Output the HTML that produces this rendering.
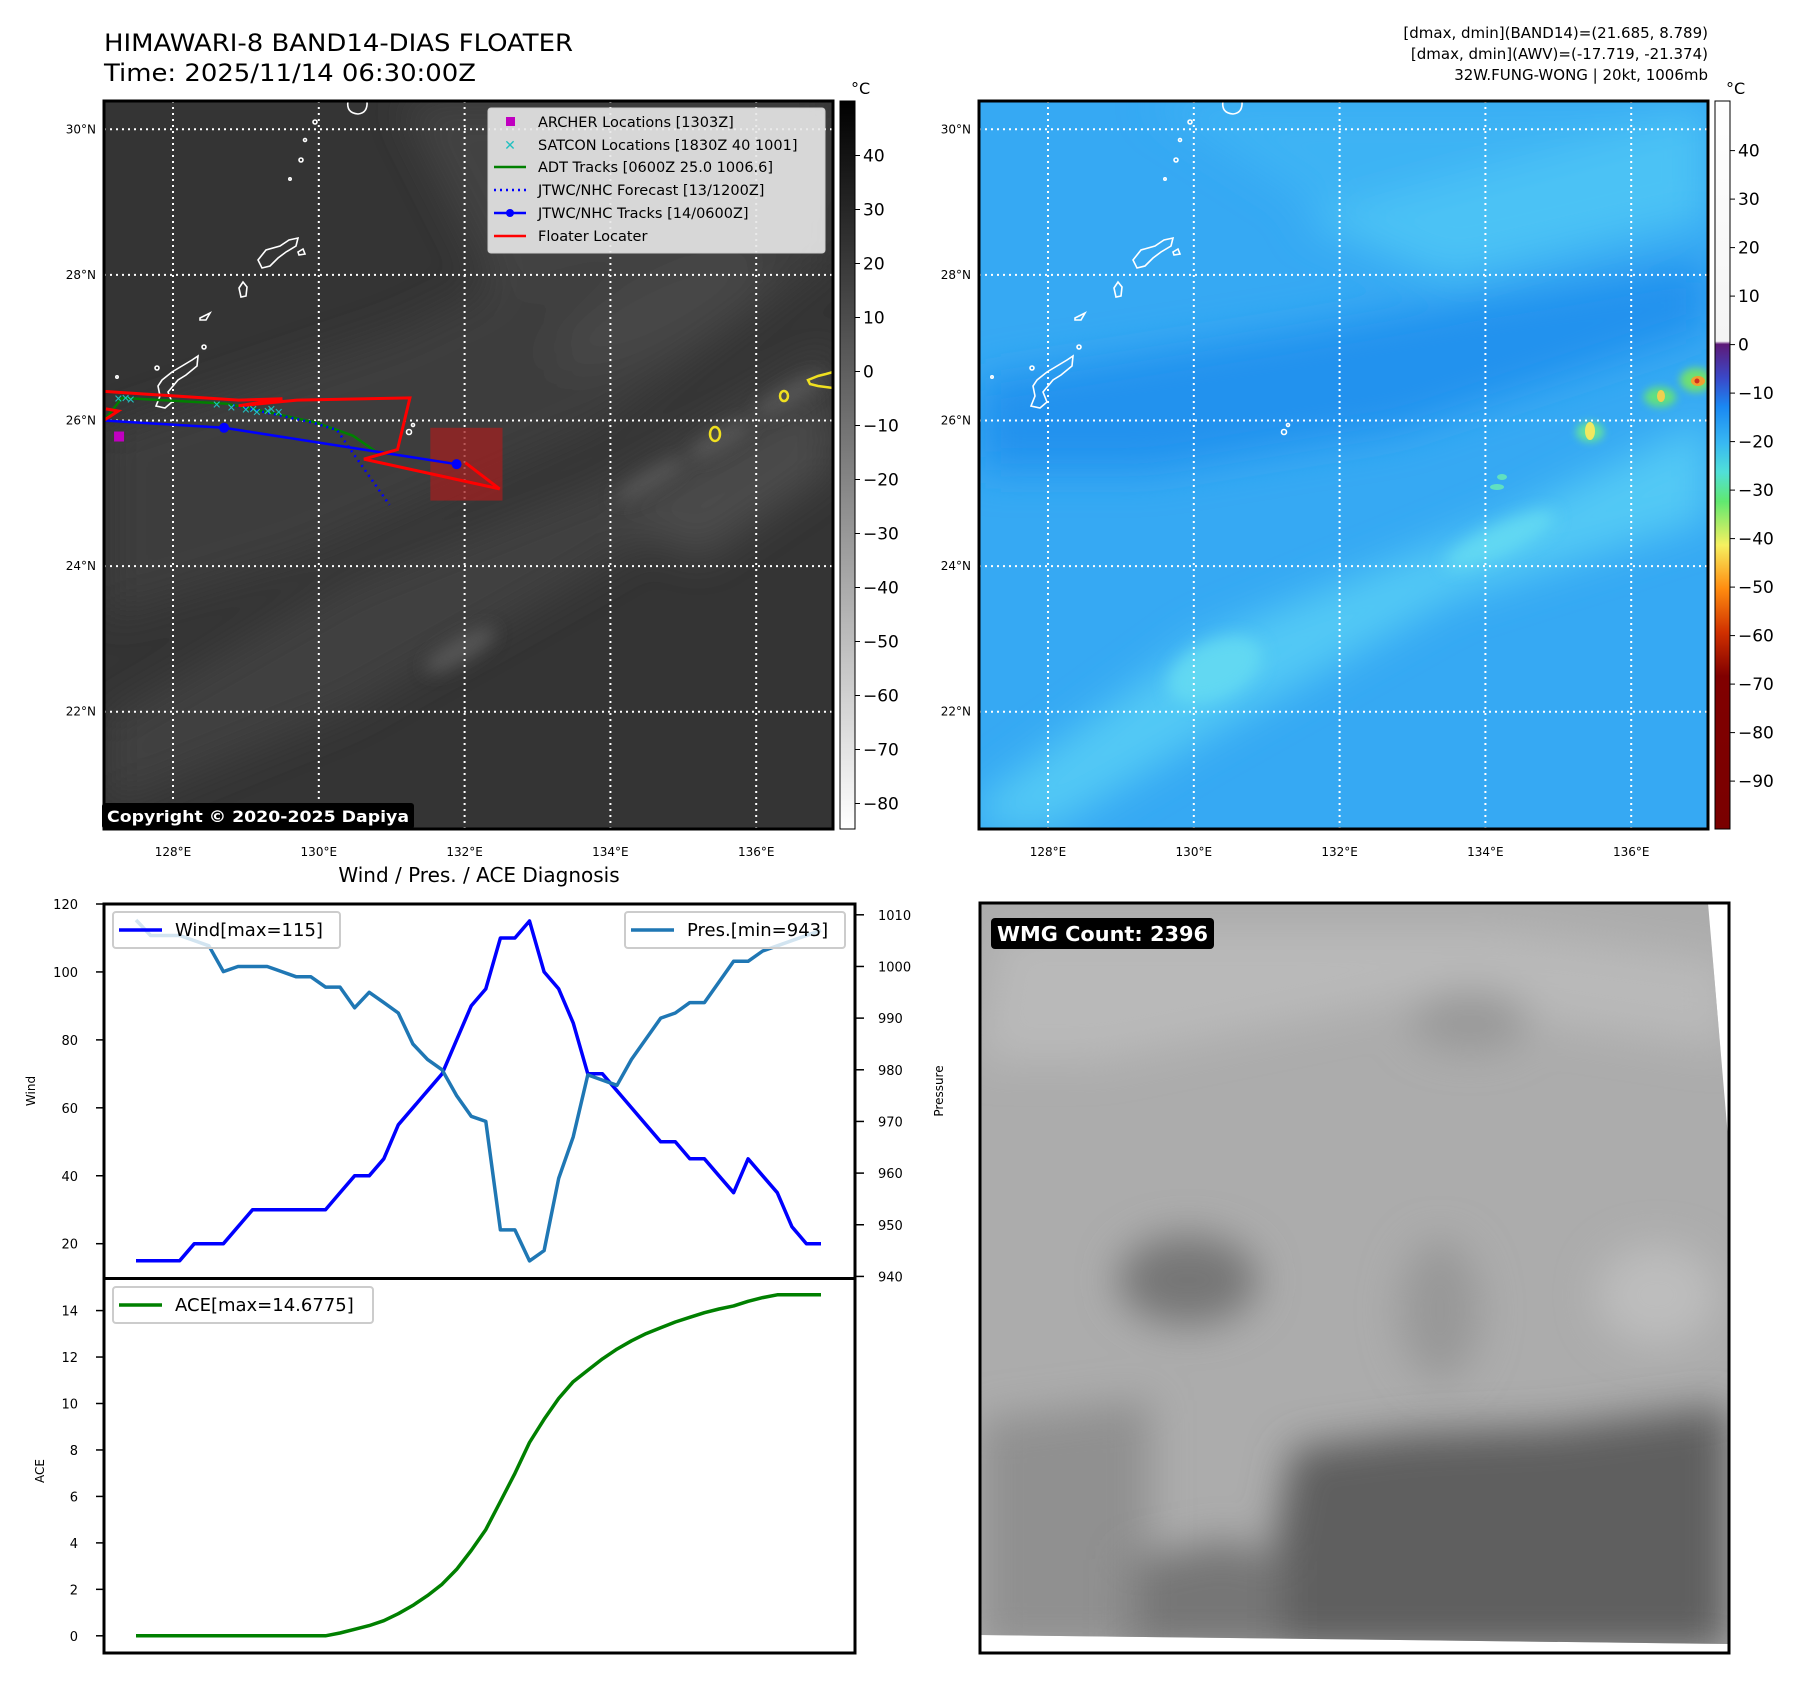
<!DOCTYPE html>
<html><head><meta charset="utf-8"><style>
html,body{margin:0;padding:0;background:#fff;width:1797px;height:1690px;overflow:hidden}
svg{display:block;font-family:"DejaVu Sans","Liberation Sans",sans-serif}
</style></head><body>
<svg id="fig" width="1797" height="1690" viewBox="0 0 1797 1690" xmlns="http://www.w3.org/2000/svg">
<defs>
<filter id="b20" x="-50%" y="-50%" width="200%" height="200%"><feGaussianBlur stdDeviation="20"/></filter>
<filter id="b8" x="-50%" y="-50%" width="200%" height="200%"><feGaussianBlur stdDeviation="8"/></filter>
<filter id="b4" x="-50%" y="-50%" width="200%" height="200%"><feGaussianBlur stdDeviation="4"/></filter>
<clipPath id="cL"><rect x="104" y="101" width="729" height="728"/></clipPath>
<clipPath id="cR"><rect x="979" y="101" width="729" height="728"/></clipPath>
<clipPath id="cI"><polygon points="980,903 1708,903 1729,1149 1729,1644 980,1635"/></clipPath>
<linearGradient id="gGray" x1="0" y1="0" x2="0" y2="1"><stop offset="0" stop-color="#000"/><stop offset="1" stop-color="#fff"/></linearGradient>
<linearGradient id="gJet" x1="0" y1="0" x2="0" y2="1">
<stop offset="0" stop-color="#ffffff"/><stop offset="0.33" stop-color="#f4f4f4"/>
<stop offset="0.334" stop-color="#5e1a78"/><stop offset="0.38" stop-color="#3a48c8"/>
<stop offset="0.42" stop-color="#1a88f2"/><stop offset="0.47" stop-color="#38b8f2"/>
<stop offset="0.51" stop-color="#50e0d8"/><stop offset="0.55" stop-color="#60e870"/>
<stop offset="0.61" stop-color="#f6f060"/><stop offset="0.67" stop-color="#ff8c10"/>
<stop offset="0.73" stop-color="#d03000"/><stop offset="0.79" stop-color="#800000"/><stop offset="1" stop-color="#7a0000"/>
</linearGradient>
</defs>

<text x="104" y="51" font-size="24" fill="#000" textLength="469" lengthAdjust="spacingAndGlyphs">HIMAWARI-8 BAND14-DIAS FLOATER</text>
<text x="104" y="81" font-size="24" fill="#000" textLength="372" lengthAdjust="spacingAndGlyphs">Time: 2025/11/14 06:30:00Z</text>
<g font-size="15" fill="#000" text-anchor="end">
<text x="1708" y="38">[dmax, dmin](BAND14)=(21.685, 8.789)</text>
<text x="1708" y="59">[dmax, dmin](AWV)=(-17.719, -21.374)</text>
<text x="1708" y="80">32W.FUNG-WONG | 20kt, 1006mb</text>
</g>

<g clip-path="url(#cL)">
<rect x="104" y="101" width="729" height="728" fill="#343434"/>
<g filter="url(#b20)">
<polygon points="104,430 400,330 833,120 833,260 600,430 300,560 104,620" fill="#3e3e3e"/>
<polygon points="400,101 833,101 833,200 500,300" fill="#424242"/>
<polygon points="104,720 350,580 600,480 833,340 833,430 600,570 350,710 104,810" fill="#404040"/>
<polygon points="620,520 760,440 833,400 833,470 700,560" fill="#4c4c4c"/>
<ellipse cx="660" cy="310" rx="120" ry="40" transform="rotate(-25 660 310)" fill="#474747"/>
</g>
<g filter="url(#b8)" fill="#555">
<ellipse cx="720" cy="440" rx="35" ry="10" transform="rotate(-30 720 440)"/>
<ellipse cx="790" cy="395" rx="40" ry="10" transform="rotate(-30 790 395)"/>
<ellipse cx="650" cy="480" rx="40" ry="9" transform="rotate(-30 650 480)"/>
<ellipse cx="460" cy="650" rx="40" ry="12" transform="rotate(-30 460 650)"/>
</g>
<g fill="none" stroke="#f0e020" stroke-width="2.5">
<ellipse cx="715" cy="434" rx="5" ry="7"/><ellipse cx="784" cy="396" rx="4" ry="5"/>
<path d="M808 380 L818 376 L826 374 L833 372 L833 388 L818 386 L810 384 Z"/>
</g>
</g>

<g clip-path="url(#cR)">
<rect x="979" y="101" width="729" height="728" fill="#36a9f3"/>
<g filter="url(#b20)">
<polygon points="979,380 1300,330 1708,260 1708,330 1400,430 1150,470 979,470" fill="#2192ee"/>
<polygon points="1150,101 1708,101 1708,200 1400,260" fill="#3db3f4"/>
<polygon points="979,800 1200,640 1500,520 1708,420 1708,520 1450,600 1200,740 1050,829 979,829" fill="#52c9f5"/>
<polygon points="1300,220 1708,110 1708,220 1450,280" fill="#4cc2f5"/>
</g>
<g filter="url(#b8)" fill="#62d8f2">
<ellipse cx="1215" cy="670" rx="50" ry="28" transform="rotate(-25 1215 670)"/>
<ellipse cx="1500" cy="540" rx="60" ry="15" transform="rotate(-25 1500 540)"/>
</g>
<g>
<ellipse cx="1590" cy="432" rx="14" ry="10" fill="#60e0a0" filter="url(#b4)"/>
<ellipse cx="1590" cy="431" rx="5" ry="9" fill="#f0e860"/>
<ellipse cx="1660" cy="397" rx="16" ry="10" fill="#60e080" filter="url(#b4)"/>
<ellipse cx="1661" cy="396" rx="4" ry="6" fill="#f0d050"/>
<ellipse cx="1696" cy="380" rx="16" ry="12" fill="#70e070" filter="url(#b4)"/>
<ellipse cx="1698" cy="381" rx="7" ry="5" fill="#f0a030"/>
<circle cx="1697" cy="381" r="2.5" fill="#d03020"/>
<ellipse cx="1502" cy="477" rx="5" ry="3" fill="#60e0c0"/>
<ellipse cx="1497" cy="487" rx="7" ry="3" fill="#60e0c0"/>
</g>
</g>

<g id="islandsL" fill="none" stroke="#fff" stroke-width="1.6">
<path d="M348 101 Q346 113 358 114 Q368 113 367 101"/>
<path d="M258 260 L266 250 L280 246 L289 240 L298 238 L296 246 L286 252 L278 258 L270 266 L262 268 Z"/>
<path d="M298 252 L303 249 L305 254 L299 255 Z"/>
<path d="M239 288 L243 282 L247 287 L246 296 L241 297 Z"/>
<path d="M200 318 L210 313 L206 320 L200 320 Z"/>
<path d="M162 380 L172 372 L192 360 L198 356 L197 366 L186 375 L178 380 L168 392 L172 402 L165 408 L156 406 L160 396 L158 386 Z"/>
<circle cx="157" cy="368" r="2"/><circle cx="305" cy="140" r="1.5"/><circle cx="301" cy="160" r="2"/>
<circle cx="315" cy="122" r="2"/><circle cx="290" cy="179" r="1.2"/><circle cx="204" cy="347" r="2"/>
<circle cx="117" cy="377" r="1.2"/><circle cx="409" cy="432" r="2.5"/><circle cx="413" cy="425" r="1.5"/>
</g>
<use href="#islandsL" x="875" y="0"/>

<g id="gridL" stroke="#fff" stroke-width="2" stroke-dasharray="2,4" clip-path="url(#cL)"></g>
<g id="gridR" stroke="#fff" stroke-width="2" stroke-dasharray="2,4" clip-path="url(#cR)"></g>

<g id="tracks" clip-path="url(#cL)"></g>

<rect x="104" y="101" width="729" height="728" fill="none" stroke="#000" stroke-width="3"/>
<rect x="979" y="101" width="729" height="728" fill="none" stroke="#000" stroke-width="3"/>
<g id="mapTicks" font-size="12" fill="#000"></g>

<rect x="840" y="101" width="15" height="728" fill="url(#gGray)" stroke="#000" stroke-width="1"/>
<rect x="1715" y="101" width="15" height="728" fill="url(#gJet)" stroke="#000" stroke-width="1"/>
<text x="851" y="94" font-size="16">°C</text>
<text x="1726" y="94" font-size="16">°C</text>
<g id="cbTicks" font-size="17" fill="#000"></g>

<g>
<rect x="488" y="108" width="337" height="145" rx="3" fill="#e8e8e8" fill-opacity="0.9" stroke="#ccc"/>
<g font-size="14.5" fill="#000">
<rect x="506" y="117" width="9" height="9" fill="#c000c0"/>
<text x="538" y="127">ARCHER Locations [1303Z]</text>
<text x="510" y="150" fill="#20c0c0" text-anchor="middle" font-weight="bold" font-size="14">✕</text>
<text x="538" y="150">SATCON Locations [1830Z 40 1001]</text>
<line x1="494" y1="167" x2="526" y2="167" stroke="#008000" stroke-width="2.5"/>
<text x="538" y="172">ADT Tracks [0600Z 25.0 1006.6]</text>
<line x1="494" y1="190" x2="526" y2="190" stroke="#0000ff" stroke-width="2.5" stroke-dasharray="2,4"/>
<text x="538" y="195">JTWC/NHC Forecast [13/1200Z]</text>
<line x1="494" y1="213" x2="526" y2="213" stroke="#0000ff" stroke-width="2.5"/><circle cx="510" cy="213" r="4" fill="#0000ff"/>
<text x="538" y="218">JTWC/NHC Tracks [14/0600Z]</text>
<line x1="494" y1="236" x2="526" y2="236" stroke="#ff0000" stroke-width="2.5"/>
<text x="538" y="241">Floater Locater</text>
</g></g>

<rect x="102" y="803" width="312" height="26" rx="3" fill="#000"/>
<text x="107" y="822" font-size="16" font-weight="bold" fill="#fff" textLength="302" lengthAdjust="spacingAndGlyphs">Copyright © 2020-2025 Dapiya</text>

<text x="479" y="882" font-size="20" text-anchor="middle">Wind / Pres. / ACE Diagnosis</text>
<g id="diag"></g>

<g>
<g clip-path="url(#cI)">
<rect x="980" y="903" width="749" height="750" fill="#acacac"/>
<g filter="url(#b20)">
<polygon points="1000,930 1500,930 1729,960 1729,1050 1400,1000 1100,1060 980,1060" fill="#b9b9b9"/>
<ellipse cx="1188" cy="1280" rx="70" ry="45" fill="#767676"/>
<ellipse cx="1470" cy="1020" rx="60" ry="30" fill="#989898"/>
<ellipse cx="1657" cy="1295" rx="60" ry="50" fill="#bdbdbd"/>
<ellipse cx="1440" cy="1310" rx="40" ry="70" fill="#989898"/>
<polygon points="980,1420 1150,1400 1150,1650 980,1650" fill="#909090"/>
</g>
<g filter="url(#b20)">
<polygon points="1293,1448 1412,1433 1553,1427 1729,1405 1729,1650 1282,1650 1275,1540" fill="#5f5f5f"/>
<polygon points="1130,1560 1230,1540 1282,1560 1282,1650 1130,1650" fill="#767676"/>
</g>
</g>
<rect x="980" y="903" width="749" height="750" fill="none" stroke="#000" stroke-width="3"/>
<rect x="991" y="918" width="223" height="31" rx="4" fill="#000"/>
<text x="997" y="941" font-size="20" font-weight="bold" fill="#fff" textLength="211" lengthAdjust="spacingAndGlyphs">WMG Count: 2396</text>
</g>
</svg>

<script>
const wind = [15,15,15,15,20,20,20,25,30,30,30,30,30,30,35,40,40,45,55,60,65,70,80,90,95,110,110,115,100,95,85,70,70,65,60,55,50,50,45,45,40,35,45,40,35,25,20,20];
const pres = [1009,1006,1006,1006,1005,1004,999,1000,1000,1000,999,998,998,996,996,992,995,993,991,985,982,980,975,971,970,949,949,943,945,959,967,979,978,977,982,986,990,991,993,993,997,1001,1001,1003,1004,1005,1006,1007];
const ace = [0,0,0,0,0,0,0,0,0,0,0,0,0,0,0.12,0.28,0.44,0.65,0.95,1.31,1.73,2.22,2.86,3.67,4.57,5.78,6.99,8.32,9.32,10.22,10.94,11.43,11.92,12.34,12.70,13.01,13.26,13.51,13.71,13.91,14.07,14.20,14.40,14.56,14.68,14.68,14.68,14.68];
const windTicks = [20,40,60,80,100,120];
const presTicks = [940,950,960,970,980,990,1000,1010];
const aceTicks = [0,2,4,6,8,10,12,14];
const bandTicks = [40,30,20,10,0,-10,-20,-30,-40,-50,-60,-70,-80];
const awvTicks = [40,30,20,10,0,-10,-20,-30,-40,-50,-60,-70,-80,-90];
const lonTicks = [128,130,132,134,136];
const latTicks = [30,28,26,24,22];
const bestTrack = [[127.05,26.0],[128.7,25.9],[131.89,25.4]];
const forecastTrack = [[128.82,26.21],[129.92,25.97],[130.25,25.87],[130.47,25.55],[130.97,24.84]];
const adtTrack = [[127.08,26.03],[127.30,26.31],[128.74,26.23],[129.37,26.10],[129.97,25.97],[130.47,25.79],[130.80,25.56]];
const floaterPath = [[127.05,26.40],[128.9,26.28],[129.5,26.30],[128.9,26.2],[129.7,26.28],[131.25,26.31],[131.08,25.60],[130.62,25.47],[132.48,25.06],[132.01,25.42]];
const floaterPath2 = [[127.05,26.0],[127.25,26.13],[127.08,26.16]];
const satcon = [[127.25,26.30],[127.35,26.31],[127.42,26.29],[128.6,26.22],[128.8,26.18],[129.0,26.15],[129.15,26.12],[129.3,26.13],[129.45,26.12],[129.1,26.16],[129.35,26.16]];
const archer = [[127.26,25.78]];
const floaterBox = [131.53,132.52,24.9,25.9];

const NS='http://www.w3.org/2000/svg';
function mk(tag, attrs, parent){const e=document.createElementNS(NS,tag);for(const k in attrs)e.setAttribute(k,attrs[k]);parent.appendChild(e);return e;}

const mx = lon => 173 + (lon-128)*72.9;
const my = lat => 420.5 - (lat-26)*72.8;
const pts = arr => arr.map(p=>mx(p[0]).toFixed(1)+','+my(p[1]).toFixed(1)).join(' ');

const gL=document.getElementById('gridL'), gR=document.getElementById('gridR'), mt=document.getElementById('mapTicks');
[[gL,0],[gR,875]].forEach(([g,off])=>{
  lonTicks.forEach(l=>{const ln=mk('line',{x1:mx(l)+off,x2:mx(l)+off,y1:101,y2:829},g);
    
    
    const t=mk('text',{x:mx(l)+off,y:856,'text-anchor':'middle'},mt);t.textContent=l+'°E';
    
    });
  latTicks.forEach(l=>{const ln=mk('line',{x1:104+off,x2:833+off,y1:my(l),y2:my(l)},g);
    
    
    const t=mk('text',{x:96+off,y:my(l)+4,'text-anchor':'end'},mt);t.textContent=l+'°N';
    
    });
});

const tr=document.getElementById('tracks');
let e;
e=mk('rect',{x:mx(floaterBox[0]),y:my(floaterBox[3]),width:mx(floaterBox[1])-mx(floaterBox[0]),height:my(floaterBox[2])-my(floaterBox[3]),fill:'#a02020','fill-opacity':0.75},tr);


e=mk('polyline',{points:pts(adtTrack),fill:'none',stroke:'#008000','stroke-width':2.5},tr);


e=mk('polyline',{points:pts(bestTrack),fill:'none',stroke:'#0000ff','stroke-width':2.5},tr);


bestTrack.slice(1).forEach(p=>{const c=mk('circle',{cx:mx(p[0]),cy:my(p[1]),r:5,fill:'#0000ff'},tr);
  
  });
e=mk('polyline',{points:pts(forecastTrack),fill:'none',stroke:'#0000ff','stroke-width':2.5,'stroke-dasharray':'2,4'},tr);


[floaterPath,floaterPath2].forEach(fp=>{const p=mk('polyline',{points:pts(fp),fill:'none',stroke:'#ff0000','stroke-width':3},tr);
  
  });
satcon.forEach(p=>{const t=mk('text',{x:mx(p[0]),y:my(p[1])+4,'font-size':11,'font-weight':'bold',fill:'#20c0c0','text-anchor':'middle'},tr);t.textContent='✕';
  
  });
archer.forEach(p=>{const r=mk('rect',{x:mx(p[0])-5,y:my(p[1])-5,width:10,height:10,fill:'#c000c0'},tr);
  
  });

const cb=document.getElementById('cbTicks');
const cbY1=v=>155.5+(40-v)*5.4, cbY2=v=>150.6+(40-v)*4.85;
bandTicks.forEach(v=>{mk('line',{x1:855,x2:860,y1:cbY1(v),y2:cbY1(v),stroke:'#000'},cb);
  const t=mk('text',{x:863,y:cbY1(v)+6},cb);t.textContent=v<0?'−'+(-v):v;
  
  });
awvTicks.forEach(v=>{mk('line',{x1:1730,x2:1735,y1:cbY2(v),y2:cbY2(v),stroke:'#000'},cb);
  const t=mk('text',{x:1738,y:cbY2(v)+6},cb);t.textContent=v<0?'−'+(-v):v;
  
  });

const d=document.getElementById('diag');
const L=104,R=855,T=904,M=1278.5,B=1653;
const xs=i=>136+i*(821-136)/(wind.length-1);
const yW=v=>T+(120-v)*3.397;
const yP=v=>914.8+(1010-v)*5.166;
const yA=v=>1635.8-v*23.23;
function line(arr,yf,col,name){const p=mk('polyline',{points:arr.map((v,i)=>xs(i).toFixed(1)+','+yf(v).toFixed(1)).join(' '),fill:'none',stroke:col,'stroke-width':3.5,'stroke-linejoin':'round'},d);
  
  }
line(wind,yW,'#0000ff','wind-line');
line(pres,yP,'#1f77b4','pressure-line');
line(ace,yA,'#008000','ace-line');
function tickL(vals,yf,name){vals.forEach(v=>{mk('line',{x1:L-8,x2:L,y1:yf(v),y2:yf(v),stroke:'#000','stroke-width':1.5},d);
  const t=mk('text',{x:78,y:yf(v)+5,'font-size':13,'text-anchor':'end'},d);t.textContent=v;
  
  });}
tickL(windTicks,yW,'wind-tick-label');
tickL(aceTicks,yA,'ace-tick-label');
presTicks.forEach(v=>{mk('line',{x1:R,x2:R+9,y1:yP(v),y2:yP(v),stroke:'#000','stroke-width':1.5},d);
  const t=mk('text',{x:878,y:yP(v)+5,'font-size':13},d);t.textContent=v;
  
  });
mk('rect',{x:L,y:T,width:R-L,height:B-T,fill:'none',stroke:'#000','stroke-width':3},d);
mk('line',{x1:L,x2:R,y1:M,y2:M,stroke:'#000','stroke-width':3},d);
function lab(txt,x,y,name){const t=mk('text',{x:x,y:y,'font-size':12,'text-anchor':'middle',transform:'rotate(-90 '+x+' '+y+')'},d);t.textContent=txt;
  
  }
lab('Wind',35,1091,'wind-axis-title');
lab('Pressure',943,1091,'pressure-axis-title');
lab('ACE',44,1471,'ace-axis-title');
function legend(x,y,w,col,txt,name){const g=mk('g',{},d);
  
  
  mk('rect',{x:x,y:y,width:w,height:36,rx:3,fill:'#fff','fill-opacity':0.8,stroke:'#ccc','stroke-width':2},g);
  mk('line',{x1:x+6,x2:x+49,y1:y+18,y2:y+18,stroke:col,'stroke-width':3.5},g);
  const t=mk('text',{x:x+62,y:y+24,'font-size':18},g);t.textContent=txt;}
legend(113,912,227,'#0000ff','Wind[max=115]','wind-legend');
legend(625,912,220,'#1f77b4','Pres.[min=943]','pressure-legend');
legend(113,1287,260,'#008000','ACE[max=14.6775]','ace-legend');
</script>
</body></html>
